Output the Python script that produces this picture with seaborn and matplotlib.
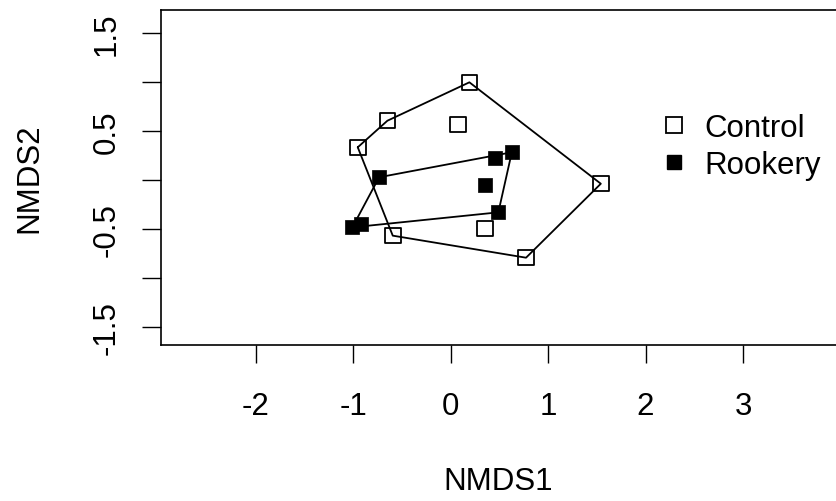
import numpy as np
import pandas as pd
import matplotlib
matplotlib.use("Agg")
import matplotlib.pyplot as plt
import seaborn as sns
from matplotlib.lines import Line2D

# Data (NMDS ordination scores)
control_x = [0.193, -0.648, 0.074, -0.952, 1.541, -0.593, 0.354, 0.774]
control_y = [1.000, 0.608, 0.567, 0.337, -0.035, -0.565, -0.490, -0.790]
rookery_x = [0.628, 0.456, -0.733, 0.354, 0.490, -0.921, -1.007]
rookery_y = [0.286, 0.231, 0.031, -0.048, -0.327, -0.446, -0.480]
groups = ["Control", "Rookery"]
y_ticks = [-1.5, -1.0, -0.5, 0.0, 0.5, 1.0, 1.5]
y_ticklabels = ["-1.5", "", "-0.5", "", "0.5", "", "1.5"]
x_ticks = [-2, -1, 0, 1, 2, 3]
x_ticklabels = ["-2", "-1", "0", "1", "2", "3"]

df = pd.DataFrame({
    "NMDS1": control_x + rookery_x,
    "NMDS2": control_y + rookery_y,
    "group": [groups[0]] * len(control_x) + [groups[1]] * len(rookery_x),
})


def convex_hull(points):
    pts = sorted(set(points))
    if len(pts) <= 2:
        return pts

    def cross(o, a, b):
        return (a[0] - o[0]) * (b[1] - o[1]) - (a[1] - o[1]) * (b[0] - o[0])

    lower = []
    for p in pts:
        while len(lower) >= 2 and cross(lower[-2], lower[-1], p) <= 0:
            lower.pop()
        lower.append(p)
    upper = []
    for p in reversed(pts):
        while len(upper) >= 2 and cross(upper[-2], upper[-1], p) <= 0:
            upper.pop()
        upper.append(p)
    return lower[:-1] + upper[:-1]


sns.set_theme(style="white")
plt.rcParams["font.family"] = ["Liberation Sans", "DejaVu Sans"]
plt.rcParams["text.color"] = "black"
plt.rcParams["axes.labelcolor"] = "black"
plt.rcParams["xtick.color"] = "black"
plt.rcParams["ytick.color"] = "black"
plt.rcParams["xtick.labelcolor"] = "black"
plt.rcParams["ytick.labelcolor"] = "black"
FS = 22.5

fig = plt.figure(figsize=(8.36, 5.02), dpi=100)
ax = fig.add_axes([161 / 836, (502 - 346.3) / 502, (836 - 161) / 836, (346.3 - 10.7) / 502])

# hull lines
for g in groups:
    sub = df[df["group"] == g]
    hull = convex_hull(list(zip(sub["NMDS1"], sub["NMDS2"])))
    hull.append(hull[0])
    hx, hy = zip(*hull)
    ax.plot(hx, hy, color="black", lw=1.3, zorder=2)

ms = 125
sns.scatterplot(data=df[df["group"] == "Control"], x="NMDS1", y="NMDS2", marker="s",
                s=ms, facecolor="none", edgecolor="black", linewidth=1.3, ax=ax, zorder=3)
sns.scatterplot(data=df[df["group"] == "Rookery"], x="NMDS1", y="NMDS2", marker="s",
                s=ms * 0.85, color="black", edgecolor="black", linewidth=0.5, ax=ax, zorder=3)

ax.set_xlim(-2.970, 3.953)
ax.set_ylim(-1.684, 1.741)

ax.set_xticks(x_ticks)
ax.set_xticklabels(x_ticklabels, fontsize=FS, color="black")
ax.set_yticks(y_ticks)
ax.set_yticklabels(y_ticklabels, fontsize=FS, rotation=90, va="center", color="black")
ax.tick_params(axis="x", length=13, width=1.0, color="black", pad=20, direction="out", bottom=True)
ax.tick_params(axis="y", length=14, width=1.0, color="black", pad=14, direction="out", left=True)

for side in ["left", "bottom", "top"]:
    ax.spines[side].set_color("black")
    ax.spines[side].set_linewidth(1.2)
ax.spines["right"].set_visible(False)

ax.set_xlabel("NMDS1", fontsize=FS, color="black")
ax.set_ylabel("NMDS2", fontsize=FS, color="black")
ax.xaxis.label.set_va("center")
ax.yaxis.label.set_va("center")
ax.xaxis.set_label_coords(0.5, (346.3 - 481.7) / 335.6)
ax.yaxis.set_label_coords((29 - 161) / 675, 0.5)

handles = [
    Line2D([], [], marker="s", linestyle="none", markersize=11, markerfacecolor="none",
           markeredgecolor="black", markeredgewidth=1.3),
    Line2D([], [], marker="s", linestyle="none", markersize=10.5, markerfacecolor="black",
           markeredgecolor="black"),
]
leg = ax.legend(handles, groups, loc="center left", bbox_to_anchor=(658.5 / 836, 1 - 147.5 / 502),
                bbox_transform=fig.transFigure, frameon=False, fontsize=FS, handlelength=1.0,
                handletextpad=0.48, borderpad=0, borderaxespad=0, labelspacing=0.22)
for t in leg.get_texts():
    t.set_color("black")

fig.savefig("out.png", dpi=100, facecolor="white")
